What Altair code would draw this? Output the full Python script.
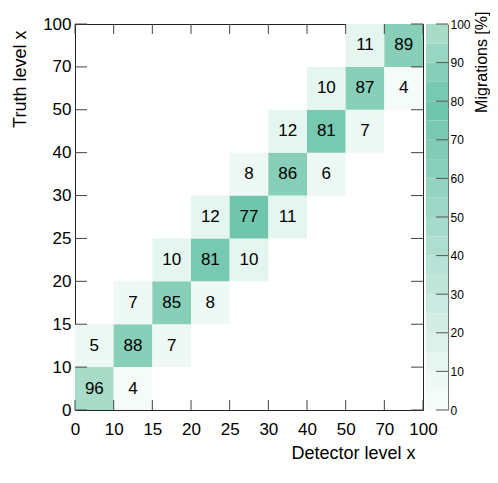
import altair as alt
import pandas as pd

# bin edges (labels) shared by truth and detector axes
edges = ["0", "10", "15", "20", "25", "30", "40", "50", "70", "100"]

# migration matrix cells: truth bin index, detector bin index, value [%]
truth_idx = [0, 0, 1, 1, 1, 2, 2, 2, 3, 3, 3, 4, 4, 4, 5, 5, 5, 6, 6, 6, 7, 7, 7, 8, 8]
det_idx = [0, 1, 0, 1, 2, 1, 2, 3, 2, 3, 4, 3, 4, 5, 4, 5, 6, 5, 6, 7, 6, 7, 8, 7, 8]
migration = [96, 4, 5, 88, 7, 7, 85, 8, 10, 81, 10, 12, 77, 11, 8, 86, 6, 12, 81, 7, 10, 87, 4, 11, 89]

# colour bar
cbar_ticks = [0, 10, 20, 30, 40, 50, 60, 70, 80, 90, 100]
cbar_band_lo = [0, 5, 10, 15, 20, 25, 30, 35, 40, 45, 50, 55, 60, 65, 70, 75, 80, 85, 90, 95]
palette = ["#f5fbf9", "#eef8f4", "#e5f5ef", "#dcf1ea", "#d3ede5", "#c9eae0", "#c0e6da",
           "#b7e2d5", "#aeded0", "#a5dbcb", "#9cd7c6", "#93d3c0", "#8acfbb", "#82ccb6",
           "#79c8b1", "#70c5ad", "#78c9b1", "#88cfb9", "#98d6c3", "#a8dcc9"]

W, H = 348, 386
CBW = 22
FONT = "Liberation Sans"

cells = pd.DataFrame({"t": truth_idx, "d": det_idx, "v": migration})
cells["d2"] = cells["d"] + 1
cells["t2"] = cells["t"] + 1
cells["dm"] = cells["d"] + 0.5
cells["tm"] = cells["t"] + 0.5

edge_df = pd.DataFrame({"e": list(range(len(edges)))})

label_arr = "[" + ",".join("'%s'" % e for e in edges) + "]"
label_expr = label_arr + "[datum.value]"

n = len(edges) - 1
xs = alt.Scale(domain=[0, n], nice=False, zero=False)
ys = alt.Scale(domain=[0, n], nice=False, zero=False)
cscale = alt.Scale(type="quantize", domain=[0, 100], range=palette)

xaxis = alt.Axis(
    values=list(range(len(edges))), labelExpr=label_expr, title="Detector level x",
    domain=False, ticks=False, grid=False, labelFontSize=17, labelPadding=11,
    labelColor="#000", labelFlush=False, labelOverlap=False,
    titleFontSize=18, titleFontWeight="normal", titleColor="#000",
    titleAnchor="start", titleAlign="right", titleX=340, titleY=48,
    titleBaseline="alphabetic")
yaxis = alt.Axis(
    values=list(range(len(edges))), labelExpr=label_expr, title="Truth level x",
    domain=False, ticks=False, grid=False, labelFontSize=17, labelPadding=4,
    labelColor="#000", labelFlush=False, labelOverlap=False,
    titleFontSize=18, titleFontWeight="normal", titleColor="#000",
    titleAngle=270, titleAlign="right", titleX=-50, titleY=6,
    titleBaseline="alphabetic")

rect = alt.Chart(cells).mark_rect(strokeWidth=0).encode(
    x=alt.X("d:Q", scale=xs, axis=xaxis),
    x2="d2:Q",
    y=alt.Y("t:Q", scale=ys, axis=yaxis),
    y2="t2:Q",
    color=alt.Color("v:Q", scale=cscale, legend=None),
)

text = alt.Chart(cells).mark_text(fontSize=17, color="#000", font=FONT).encode(
    x=alt.X("dm:Q", scale=xs, axis=xaxis),
    y=alt.Y("tm:Q", scale=ys, axis=yaxis),
    text=alt.Text("v:Q"),
)

tick_col = "#444"
bot_ticks = alt.Chart(edge_df).mark_rule(color=tick_col, strokeWidth=1).encode(
    x=alt.X("e:Q", scale=xs, axis=xaxis), y=alt.value(H), y2=alt.value(H - 10))
top_ticks = alt.Chart(edge_df).mark_rule(color=tick_col, strokeWidth=1).encode(
    x=alt.X("e:Q", scale=xs, axis=xaxis), y=alt.value(0), y2=alt.value(10))
left_ticks = alt.Chart(edge_df).mark_rule(color=tick_col, strokeWidth=1).encode(
    y=alt.Y("e:Q", scale=ys, axis=yaxis), x=alt.value(0), x2=alt.value(12))
right_ticks = alt.Chart(edge_df).mark_rule(color=tick_col, strokeWidth=1).encode(
    y=alt.Y("e:Q", scale=ys, axis=yaxis), x=alt.value(W), x2=alt.value(W - 12))

heat = alt.layer(rect, text, bot_ticks, top_ticks, left_ticks, right_ticks).properties(
    width=W, height=H)

bands = pd.DataFrame({"lo": cbar_band_lo})
bands["hi"] = bands["lo"] + 5
bands["mid"] = bands["lo"] + 2.5
cb_scale = alt.Scale(domain=[0, 100], nice=False, zero=False)
cb_axis = alt.Axis(
    orient="right", values=cbar_ticks, title="Migrations [%]", ticks=False,
    grid=False, domain=True, domainColor="#777", labelFontSize=12,
    labelPadding=2, labelColor="#000", labelFlush=False, labelOverlap=False,
    titleFontSize=16, titleFontWeight="normal", titleColor="#000",
    titleAngle=270, titleAlign="right", titleX=38, titleY=-13,
    titleBaseline="alphabetic")

cb_rect = alt.Chart(bands).mark_rect(strokeWidth=0).encode(
    y=alt.Y("lo:Q", scale=cb_scale, axis=cb_axis),
    y2="hi:Q",
    x=alt.value(0), x2=alt.value(CBW),
    color=alt.Color("mid:Q", scale=cscale, legend=None),
)
cb_ticks = alt.Chart(pd.DataFrame({"tv": cbar_ticks})).mark_rule(
    color="#555", strokeWidth=1).encode(
    y=alt.Y("tv:Q", scale=cb_scale, axis=cb_axis), x=alt.value(CBW), x2=alt.value(CBW - 12))

cbar = alt.layer(cb_rect, cb_ticks).properties(
    width=CBW, height=H, view=alt.ViewBackground(stroke="transparent"))

chart = alt.hconcat(heat, cbar, spacing=3, bounds="flush").properties(
    padding={"left": 2, "top": 2, "right": 0, "bottom": 0},
    background="white",
).configure(font=FONT).configure_view(stroke="#222", strokeWidth=1)

chart.save("out.html", embed_options={"renderer": "svg", "actions": False})
